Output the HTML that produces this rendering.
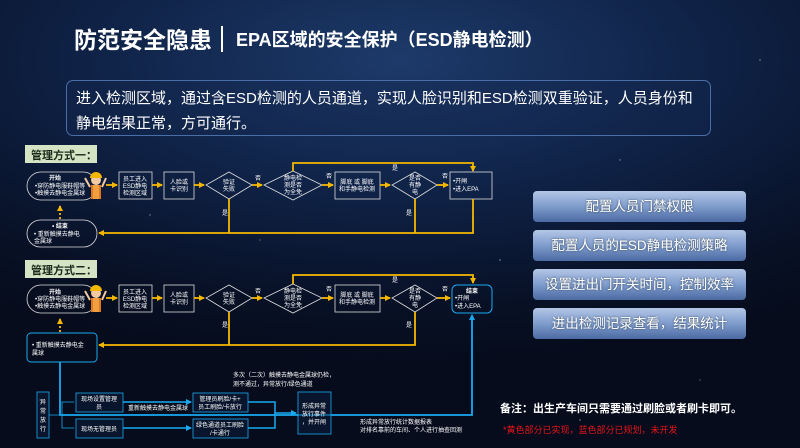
<!DOCTYPE html>
<html><head><meta charset="utf-8">
<style>
html,body{margin:0;padding:0}
body{width:800px;height:448px;overflow:hidden;position:relative;font-family:"Liberation Sans","Noto Sans CJK SC",sans-serif;
background:radial-gradient(ellipse 700px 300px at 400px 60px,#1d3a6a 0%,#0f2246 45%,#081127 80%,#060c1c 100%);}
.t1{position:absolute;left:74px;top:21px;color:#fff;font-size:23px;font-weight:bold;letter-spacing:0px}
.bar{position:absolute;left:221px;top:26px;width:2px;height:26px;background:#fff}
.t2{position:absolute;left:236px;top:26px;color:#fff;font-size:18px;font-weight:bold}
.box{position:absolute;left:66px;top:80px;width:643px;height:54px;border:1px solid #4a6fa8;border-radius:7px;background:rgba(20,40,80,0.35)}
.box p{margin:0;position:absolute;left:9px;color:#fff;font-size:15px;white-space:nowrap}
.btn{position:absolute;left:533px;width:213px;height:31px;border-radius:4px;background:linear-gradient(#b3c6e6,#7f9ccd 50%,#4b6aa2);color:#fff;font-size:13.5px;text-align:center;line-height:31px;text-shadow:0 0 2px #345}
svg{position:absolute;left:0;top:0}
</style></head><body>
<div class="t1">防范安全隐患</div><div class="bar"></div>
<div class="t2">EPA区域的安全保护（ESD静电检测）</div>
<div class="box"><p style="top:6px">进入检测区域，通过含ESD检测的人员通道，实现人脸识别和ESD检测双重验证，人员身份和</p><p style="top:31px">静电结果正常，方可通行。</p></div>
<div class="btn" style="top:191px">配置人员门禁权限</div>
<div class="btn" style="top:230px">配置人员的ESD静电检测策略</div>
<div class="btn" style="top:269px">设置进出门开关时间，控制效率</div>
<div class="btn" style="top:308px">进出检测记录查看，结果统计</div>
<svg width="800" height="448" viewBox="0 0 800 448" font-family="Liberation Sans,Noto Sans CJK SC,sans-serif">
<defs>
<marker id="ay" markerWidth="6" markerHeight="6" refX="5" refY="3" orient="auto" markerUnits="userSpaceOnUse"><path d="M0,0L6,3L0,6z" fill="#f5b800"/></marker>
<marker id="ab" markerWidth="6" markerHeight="6" refX="5" refY="3" orient="auto" markerUnits="userSpaceOnUse"><path d="M0,0L6,3L0,6z" fill="#19a9f0"/></marker>
</defs>
<g fill="#fff" opacity="0.5"><circle cx="150" cy="215" r="0.7"/><circle cx="260" cy="240" r="0.6"/><circle cx="500" cy="260" r="0.8"/><circle cx="620" cy="160" r="0.7"/><circle cx="760" cy="60" r="0.7"/><circle cx="700" cy="380" r="0.6"/><circle cx="360" cy="300" r="0.6"/><circle cx="580" cy="420" r="0.8"/><circle cx="40" cy="400" r="0.7"/></g>
<rect x="25" y="145" width="72" height="18" fill="#d4e4c4"/><text x="31" y="159" font-size="11" font-weight="bold" fill="#1a2a1a">管理方式一：</text>
<rect x="25" y="260" width="72" height="18" fill="#d4e4c4"/><text x="31" y="274" font-size="11" font-weight="bold" fill="#1a2a1a">管理方式二：</text>
<g stroke="#ddd" stroke-width="0.8" fill="none">
<rect x="27" y="172" width="70" height="28" rx="14"/>
<rect x="27" y="220" width="70" height="27" rx="13.5"/>
<rect x="119" y="172" width="33" height="27"/>
<rect x="164" y="172" width="30" height="27"/>
<path d="M229,172L252,185L229,199L206,185z"/>
<path d="M293,171L322,185L293,200L264,185z"/>
<rect x="335" y="172" width="45" height="27"/>
<path d="M415,172L437,185L415,199L392,185z"/>
<rect x="450" y="172" width="42" height="27"/>
<rect x="27" y="285" width="70" height="28" rx="14"/>
<rect x="119" y="285" width="33" height="27"/>
<rect x="164" y="285" width="30" height="27"/>
<path d="M229,285L252,298L229,312L206,298z"/>
<path d="M293,284L322,298L293,313L264,298z"/>
<rect x="335" y="285" width="45" height="27"/>
<path d="M415,285L437,298L415,312L392,298z"/>
</g>
<g stroke="#19a9f0" stroke-width="1" fill="none">
<rect x="452" y="285" width="40" height="28" rx="5"/>
<rect x="27" y="333" width="70" height="29" rx="4"/>
</g>
<g stroke="#f5b800" stroke-width="1.8" fill="none" marker-end="url(#ay)">
<path d="M106,185H117"/><path d="M152,185H162"/><path d="M194,185H204"/><path d="M252,185H262"/><path d="M322,185H333"/><path d="M380,185H390"/><path d="M437,185H448"/>
<path d="M293,171V163H473V171"/>
<path d="M473,199V233H99"/>
<path d="M106,298H117"/><path d="M152,298H162"/><path d="M194,298H204"/><path d="M252,298H262"/><path d="M322,298H333"/><path d="M380,298H390"/><path d="M437,298H450"/>
<path d="M293,284V275H473V283"/>
<path d="M415,312V345H99"/>
</g>
<g stroke="#f5b800" stroke-width="1.8" fill="none">
<path d="M229,199V233"/><path d="M415,199V233"/><path d="M229,312V345"/>
<path d="M60,219V206" stroke-dasharray="2,2" marker-end="url(#ay)"/>
<path d="M60,332V319" stroke-dasharray="2,2" marker-end="url(#ay)"/>
</g>
<g stroke="#19a9f0" stroke-width="1.8" fill="none">
<path d="M60,362V415H472V315" marker-end="url(#ab)"/>
</g>
<g>
<circle cx="96" cy="180" r="5" fill="#f2c9a0"/><path d="M90,178a6,6 0 0 1 12,0z" fill="#f5b800"/>
<rect x="91" y="185" width="10" height="14" fill="#e07820"/><rect x="93" y="185" width="6" height="14" fill="#f0a040"/>
<path d="M90,187L85,178M102,187L106,178" stroke="#f2c9a0" stroke-width="2"/>
<circle cx="96" cy="293" r="5" fill="#f2c9a0"/><path d="M90,291a6,6 0 0 1 12,0z" fill="#f5b800"/>
<rect x="91" y="298" width="10" height="14" fill="#e07820"/><rect x="93" y="298" width="6" height="14" fill="#f0a040"/>
<path d="M90,300L85,291M102,300L106,291" stroke="#f2c9a0" stroke-width="2"/>
</g>
<g fill="#fff" font-size="6">
<text x="55" y="180" font-weight="bold" text-anchor="middle">开始</text>
<text x="35" y="188">•穿防静电服鞋帽等</text><text x="35" y="195">•触摸去静电金属球</text>
<text x="60" y="228" font-weight="bold" text-anchor="middle">• 结束</text>
<text x="34" y="236">• 重新触摸去静电</text><text x="34" y="243">金属球</text>
<text x="135" y="181" text-anchor="middle">员工进入</text><text x="135" y="188" text-anchor="middle">ESD静电</text><text x="135" y="195" text-anchor="middle">检测区域</text>
<text x="179" y="184" text-anchor="middle">人脸或</text><text x="179" y="191" text-anchor="middle">卡识别</text>
<text x="229" y="184" text-anchor="middle">验证</text><text x="229" y="191" text-anchor="middle">失败</text>
<text x="293" y="180" text-anchor="middle">静电检</text><text x="293" y="187" text-anchor="middle">测是否</text><text x="293" y="194" text-anchor="middle">为全免</text>
<text x="357" y="184" text-anchor="middle">脚底 或 脚底</text><text x="357" y="191" text-anchor="middle">和手静电检测</text>
<text x="415" y="180" text-anchor="middle">是否</text><text x="415" y="187" text-anchor="middle">有静</text><text x="415" y="194" text-anchor="middle">电</text>
<text x="453" y="183">•开闸</text><text x="453" y="191">•进入EPA</text>
<text x="255" y="180">否</text><text x="326" y="178">否</text><text x="442" y="178">否</text>
<text x="392" y="170">是</text><text x="222" y="215">是</text><text x="406" y="215">是</text>
<text x="55" y="294" font-weight="bold" text-anchor="middle">开始</text>
<text x="35" y="301">•穿防静电服鞋帽等</text><text x="35" y="308">•触摸去静电金属球</text>
<text x="32" y="347">•  重新触摸去静电金</text><text x="32" y="355">属球</text>
<text x="135" y="294" text-anchor="middle">员工进入</text><text x="135" y="301" text-anchor="middle">ESD静电</text><text x="135" y="308" text-anchor="middle">检测区域</text>
<text x="179" y="297" text-anchor="middle">人脸或</text><text x="179" y="304" text-anchor="middle">卡识别</text>
<text x="229" y="297" text-anchor="middle">验证</text><text x="229" y="304" text-anchor="middle">失败</text>
<text x="293" y="293" text-anchor="middle">静电检</text><text x="293" y="300" text-anchor="middle">测是否</text><text x="293" y="307" text-anchor="middle">为全免</text>
<text x="357" y="297" text-anchor="middle">脚底 或 脚底</text><text x="357" y="304" text-anchor="middle">和手静电检测</text>
<text x="415" y="293" text-anchor="middle">是否</text><text x="415" y="300" text-anchor="middle">有静</text><text x="415" y="307" text-anchor="middle">电</text>
<text x="472" y="293" font-weight="bold" text-anchor="middle">结束</text>
<text x="455" y="300">•开闸</text><text x="455" y="308">•进入EPA</text>
<text x="255" y="293">否</text><text x="326" y="291">否</text><text x="442" y="291">否</text>
<text x="392" y="282">是</text><text x="222" y="327">是</text><text x="406" y="327">是</text>
<text x="233" y="377">多次（二次）触摸去静电金属球仍检，</text><text x="233" y="386">测不通过，异常放行/绿色通道</text>
<text x="128" y="410">重新触摸去静电金属球</text>
<text x="360" y="424">形成异常放行统计数据报表</text><text x="360" y="432">对排名靠前的车间、个人进行抽查回测</text>
</g>
<g stroke="#19a9f0" stroke-width="0.8" fill="rgba(10,30,60,0.5)">
<rect x="37" y="392" width="12" height="46"/>
<rect x="76" y="393" width="47" height="19"/><rect x="76" y="419" width="47" height="19"/>
<rect x="193" y="393" width="55" height="19"/><rect x="193" y="419" width="55" height="19"/>
<rect x="298" y="392" width="33" height="42"/>
</g>
<g stroke="#19a9f0" stroke-width="1.5" fill="none">
<path d="M49,415H62V402H74M62,415V428H74" stroke-width="0.8"/>
<path d="M123,402H191" marker-end="url(#ab)"/><path d="M123,428H191" marker-end="url(#ab)"/>
<path d="M248,402H275V413H296" marker-end="url(#ab)"/><path d="M248,428H275V413"/>
</g>
<g fill="#fff" font-size="6">
<text x="43" y="404" text-anchor="middle">异</text><text x="43" y="413" text-anchor="middle">常</text><text x="43" y="422" text-anchor="middle">放</text><text x="43" y="431" text-anchor="middle">行</text>
<text x="99" y="401" text-anchor="middle">现场设置管理</text><text x="99" y="409" text-anchor="middle">员</text>
<text x="99" y="431" text-anchor="middle">现场无管理员</text>
<text x="220" y="401" text-anchor="middle">管理员刷脸/卡+</text><text x="220" y="409" text-anchor="middle">员工刷脸/卡放行</text>
<text x="220" y="427" text-anchor="middle">绿色通道员工刷脸</text><text x="220" y="435" text-anchor="middle">/卡通行</text>
<text x="314" y="408" text-anchor="middle">形成异常</text><text x="314" y="416" text-anchor="middle">放行事件</text><text x="314" y="424" text-anchor="middle">，并开闸</text>
</g>
<text x="500" y="412" fill="#fff" font-size="11" font-weight="bold">备注：出生产车间只需要通过刷脸或者刷卡即可。</text>
<text x="503" y="433" fill="#e8141a" font-size="9">*黄色部分已实现，蓝色部分已规划，未开发</text>
</svg>
</body></html>
